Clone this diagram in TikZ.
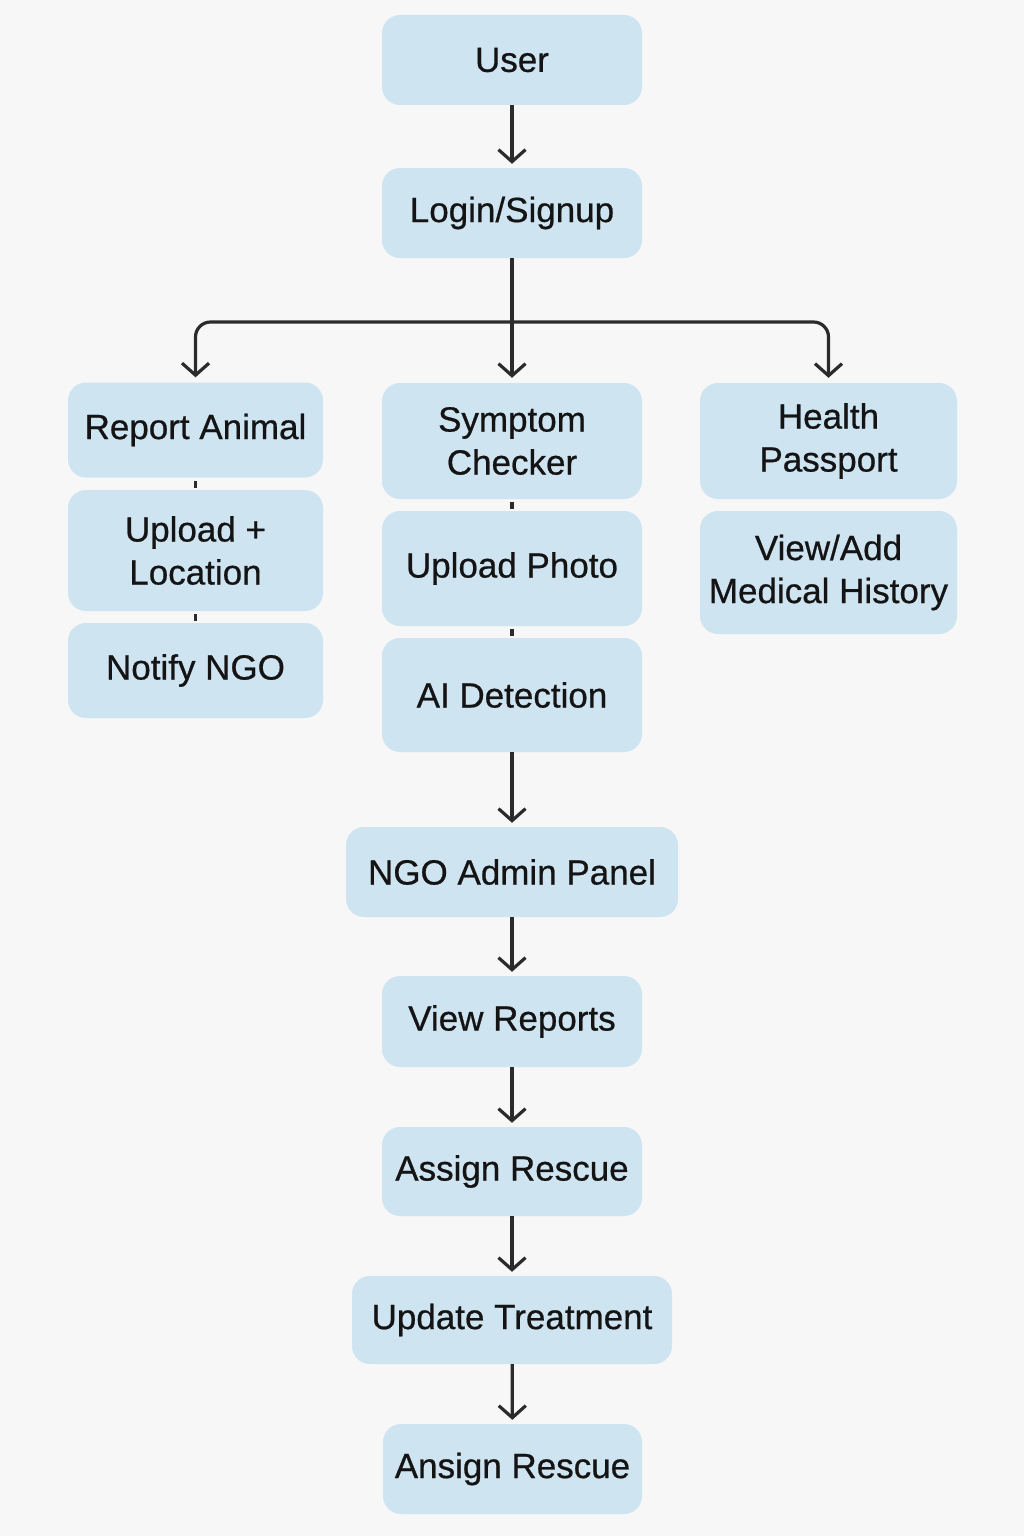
\documentclass[tikz,border=0pt]{standalone}
\usepackage{fontspec}
\setmainfont{Liberation Sans}
\newfontfamily\boxfont{Liberation Sans}[FakeBold=0.6]
\usetikzlibrary{arrows.meta}
\definecolor{bg}{HTML}{F7F7F7}
\definecolor{boxfill}{HTML}{CFE4F1}
\definecolor{ink}{HTML}{141414}
\definecolor{wire}{HTML}{2B2B2B}
\begin{document}
\begin{tikzpicture}[x=1pt,y=-1pt,
  box/.style={fill=boxfill, draw=none, rounded corners=18pt, align=center,
    text=ink, font=\boxfont\fontsize{35}{43}\selectfont, inner sep=0pt},
  flow/.style={draw=wire, line width=3.2pt, -{Straight Barb[length=12pt,width=27pt,line width=3.2pt]}},
  tick/.style={draw=wire, line width=3.2pt, shorten <=3pt, shorten >=2pt}]
\fill[bg] (0,0) rectangle (1024,1536);
\useasboundingbox (0,0) rectangle (1024,1536);
\node[box, minimum width=260pt, minimum height=90pt] (user) at (512,60) {User};
\node[box, minimum width=260pt, minimum height=90pt] (login) at (512,213) {Login/Signup};
\node[box, minimum width=255pt, minimum height=95pt] (report) at (195.5,430) {Report Animal};
\node[box, minimum width=255pt, minimum height=121pt] (upload) at (195.5,550.5) {Upload +\\Location};
\node[box, minimum width=255pt, minimum height=95pt] (notify) at (195.5,670.5) {Notify NGO};
\node[box, minimum width=260pt, minimum height=116pt] (symptom) at (512,441) {Symptom\\Checker};
\node[box, minimum width=260pt, minimum height=115pt] (photo) at (512,568.5) {Upload Photo};
\node[box, minimum width=260pt, minimum height=114pt] (ai) at (512,695) {AI Detection};
\node[box, minimum width=257pt, minimum height=116pt] (health) at (828.5,441) {Health\\Passport};
\node[box, minimum width=257pt, minimum height=123pt] (medical) at (828.5,572.5) {View/Add\\Medical History};
\node[box, minimum width=332pt, minimum height=90pt] (ngo) at (512,872) {NGO Admin Panel};
\node[box, minimum width=260pt, minimum height=91pt] (reports) at (512,1021.5) {View Reports};
\node[box, minimum width=260pt, minimum height=89pt] (assign) at (512,1171.5) {Assign Rescue};
\node[box, minimum width=320pt, minimum height=88pt] (update) at (512,1320) {Update Treatment};
\node[box, minimum width=259pt, minimum height=90pt] (ansign) at (512.5,1469) {Ansign Rescue};
\coordinate (split) at (512,322);
\draw[flow, shorten >=4pt] (user) -- (login);
\draw[flow, shorten >=5pt] (login) -- (symptom);
\draw[flow, shorten >=5pt, rounded corners=15pt] (split) -| (report);
\draw[flow, shorten >=5pt, rounded corners=15pt] (split) -| (health);
\draw[tick] (report) -- (upload);
\draw[tick] (upload) -- (notify);
\draw[tick] (symptom) -- (photo);
\draw[tick] (photo) -- (ai);
\draw[flow, shorten >=4pt] (ai) -- (ngo);
\draw[flow, shorten >=4pt] (ngo) -- (reports);
\draw[flow, shorten >=4pt] (reports) -- (assign);
\draw[flow, shorten >=4pt] (assign) -- (update);
\draw[flow, shorten >=4pt] (update) -- (ansign);
\end{tikzpicture}
\end{document}
